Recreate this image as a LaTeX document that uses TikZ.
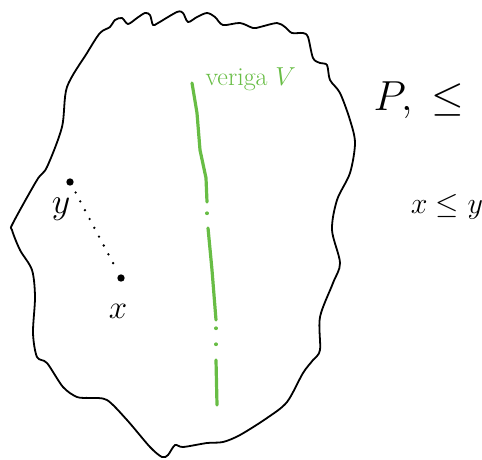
\RequirePackage{fix-cm}
\documentclass[tikz,border=0pt]{standalone}
\usepackage{xcolor}
\usepackage{tikz}
\definecolor{chaingreen}{RGB}{104,189,69}
\tikzset{
  element/.style={circle, fill=black, inner sep=2.6pt},
  chainpart/.style={draw=chaingreen, line width=3.2pt, line cap=round, line join=round}
}

\begin{document}
\begin{tikzpicture}[x=1pt, y=-1pt]
\useasboundingbox (0,0) rectangle (482,459);
% the set P
\draw[line width=1.8pt, line join=round] plot[smooth cycle, tension=0.5] coordinates {
  (100,33) (110,27) (115,20) (122,18) (128,24) (137,18) (145,13) (150,15)
  (153,25) (158,23) (177,12) (183,13) (188,22) (197,17) (207,13) (215,17)
  (223,25) (240,23) (253,28) (260,27) (277,23) (285,27) (292,33) (303,33)
  (308,37) (313,58) (320,63) (327,65) (330,80) (340,93) (350,120)
  (355,143) (350,173) (337,200) (332,230) (340,263) (333,283) (320,317)
  (320,350) (313,360) (303,373) (287,402) (267,418) (240,435) (223,442)
  (207,443) (183,447) (175,445) (168,455) (162,457) (150,447) (127,420)
  (107,400) (90,398) (77,397) (63,387) (47,363) (37,357) (33,333) (35,297)
  (32,270) (20,250) (12,230) (13,223) (37,180) (47,167) (62,127) (67,87)
  (87,53)};

% chain V
\draw[chainpart] (192,83) -- (197,113) -- (200,150) -- (206,178) -- (207,202);
\draw[chainpart] (207,213) -- (207,213.5);
\draw[chainpart] (208,228) -- (212,270) -- (216,320);
\draw[chainpart] (216,328) -- (216,328.5);
\draw[chainpart] (216,344) -- (216,344.5);
\draw[chainpart] (216,360) -- (217,405);
\node[anchor=base west, text=chaingreen, font=\fontsize{26}{28}\selectfont] (lblV) at (202,85) {veriga $V$};

% x <= y
\node[element] (ptY) at (70,182) {};
\node[element] (ptX) at (121,278) {};
\draw[line width=2.6pt, line cap=round, dash pattern=on 0pt off 10pt, shorten <=8pt, shorten >=6pt] (ptY) -- (ptX);
\node[font=\fontsize{36}{38}\selectfont] (lblY) at (61,209) {$y$};
\node[font=\fontsize{33}{35}\selectfont] (lblX) at (118,311) {$x$};

\node[anchor=base west, font=\fontsize{42}{44}\selectfont] (poset) at (370,110) {$P,\;\leq$};
\node[anchor=base, font=\fontsize{30}{32}\selectfont] (rel) at (447,213) {$x\leq y$};
\end{tikzpicture}
\end{document}
